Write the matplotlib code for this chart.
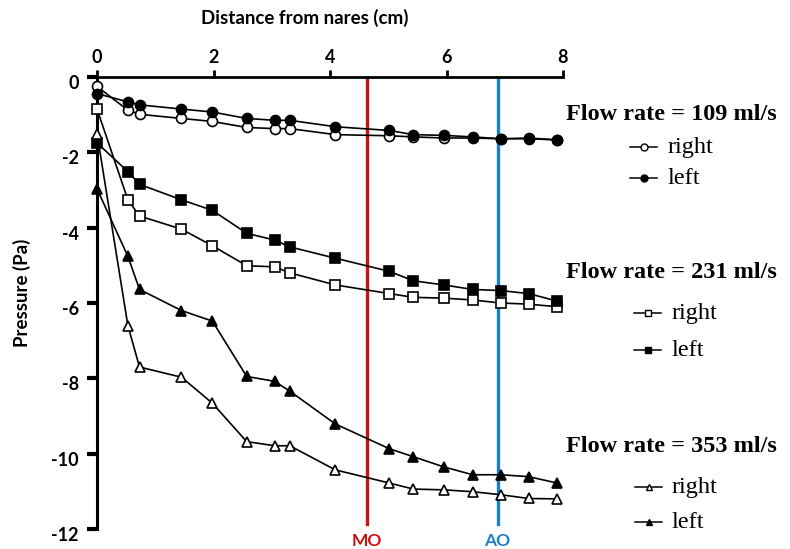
import matplotlib
matplotlib.use("Agg")
import matplotlib.pyplot as plt
import matplotlib.transforms as mtransforms
from matplotlib.lines import Line2D

plt.rcParams["axes.unicode_minus"] = False

# ---- data (distance from nares, cm / pressure, Pa)
dist = [0, 0.53, 0.73, 1.45, 1.98, 2.57, 3.05, 3.31, 4.09,
        5.02, 5.43, 5.95, 6.45, 6.93, 7.41, 7.9]

p109_right = [-0.25, -0.88, -0.99, -1.10, -1.18, -1.34, -1.37, -1.37, -1.53,
              -1.56, -1.59, -1.62, -1.62, -1.64, -1.64, -1.67]
p109_left = [-0.44, -0.66, -0.74, -0.85, -0.93, -1.10, -1.15, -1.15, -1.32,
             -1.42, -1.53, -1.55, -1.59, -1.64, -1.62, -1.67]

p231_right = [-0.85, -3.26, -3.69, -4.04, -4.48, -5.01, -5.04, -5.20, -5.52,
              -5.75, -5.85, -5.87, -5.92, -6.00, -6.03, -6.10]
p231_left = [-1.75, -2.51, -2.85, -3.26, -3.54, -4.15, -4.33, -4.51, -4.81,
             -5.16, -5.41, -5.52, -5.64, -5.67, -5.75, -5.95]

p353_right = [-1.50, -6.60, -7.70, -7.97, -8.66, -9.68, -9.79, -9.79, -10.43,
              -10.78, -10.94, -10.96, -11.01, -11.09, -11.19, -11.20]
p353_left = [-2.97, -4.76, -5.64, -6.20, -6.48, -7.95, -8.08, -8.34, -9.21,
             -9.87, -10.08, -10.35, -10.56, -10.56, -10.61, -10.78]

mo_pos = 4.64
ao_pos = 6.88

xticks = [0, 2, 4, 6, 8]
yticks = [0, -2, -4, -6, -8, -10, -12]

W, H = 790, 549
fig = plt.figure(figsize=(W / 100, H / 100), dpi=100)
ax = fig.add_axes([97 / W, 1 - 529 / H, (563 - 97) / W, (529 - 77) / H])

sans = "Lato"
serif = "Liberation Serif"

# vertical markers for MO / AO
ax.axvline(mo_pos, ymin=0.01, ymax=1, color="#cc1111", lw=2.4, zorder=1)
ax.axvline(ao_pos, ymin=0.01, ymax=1, color="#1a7fd0", lw=2.4, zorder=1)

series = [
    (p109_right, "o", "white", 7.2),
    (p109_left, "o", "black", 7.2),
    (p231_right, "s", "white", 6.5),
    (p231_left, "s", "black", 6.5),
    (p353_right, "^", "white", 7),
    (p353_left, "^", "black", 7),
]
for vals, mk, fc, ms in series:
    ax.plot(dist, vals, color="black", lw=1.2, marker=mk, ms=ms,
            mfc=fc, mec="black", mew=1.2, zorder=3, clip_on=False)

ax.set_xlim(0, 8)
ax.set_ylim(-12, 0)
ax.xaxis.tick_top()
ax.set_xticks(xticks)
ax.set_xticklabels([str(t) for t in xticks])
ax.set_yticks(yticks)
ax.set_yticklabels([str(t) for t in yticks])
ax.tick_params(axis="x", direction="out", length=5, width=2, pad=3,
               labelsize=13)
ax.tick_params(axis="y", direction="out", length=7, width=3, pad=6,
               labelsize=13)
shift = mtransforms.ScaledTranslation(0, -5 / 100, fig.dpi_scale_trans)
for lbl in ax.get_xticklabels() + ax.get_yticklabels():
    lbl.set_fontfamily(sans)
    lbl.set_fontweight("bold")
for lbl in ax.get_yticklabels():
    lbl.set_transform(lbl.get_transform() + shift)

ax.spines["right"].set_visible(False)
ax.spines["bottom"].set_visible(False)
ax.spines["left"].set_linewidth(2.2)
ax.spines["top"].set_linewidth(2)

# axis titles
fig.text(305 / W, 1 - 18 / H, "Distance from nares (cm)", ha="center",
         va="center", fontsize=13.5, fontweight="bold", family=sans)
fig.text(22 / W, 1 - 293 / H, "Pressure (Pa)", ha="center", va="center",
         rotation=90, fontsize=13.5, fontweight="bold", family=sans)

# MO / AO labels
fig.text(367 / W, 1 - 541 / H, "MO", ha="center", va="center", fontsize=12.5,
         fontweight="bold", family=sans, color="#cc1111")
fig.text(497 / W, 1 - 541 / H, "AO", ha="center", va="center", fontsize=12.5,
         fontweight="bold", family=sans, color="#1a7fd0")

# side legends
legend_blocks = [
    ("Flow rate = 109 ml/s", 115, "o", 147, 178, 630, 668),
    ("Flow rate = 231 ml/s", 272, "s", 313, 350, 634, 672),
    ("Flow rate = 353 ml/s", 447, "^", 487, 522, 635, 672),
]
for title, ty, mk, ry, ly, hx, tx in legend_blocks:
    fig.text(566 / W, 1 - ty / H, title, ha="left", va="center",
             fontsize=17.5, fontweight="bold", family=serif)
    for yy, fc, name in [(ry, "white", "right"), (ly, "black", "left")]:
        fig.add_artist(Line2D([hx / W, (hx + 27) / W], [1 - yy / H, 1 - yy / H],
                              color="black", lw=1.1))
        fig.add_artist(Line2D([(hx + 13.5) / W], [1 - yy / H], marker=mk,
                              ms=5, mfc=fc, mec="black", mew=1))
        fig.text(tx / W, 1 - yy / H, name, ha="left", va="center",
                 fontsize=17.5, family=serif)

fig.savefig("out.png", dpi=100)
